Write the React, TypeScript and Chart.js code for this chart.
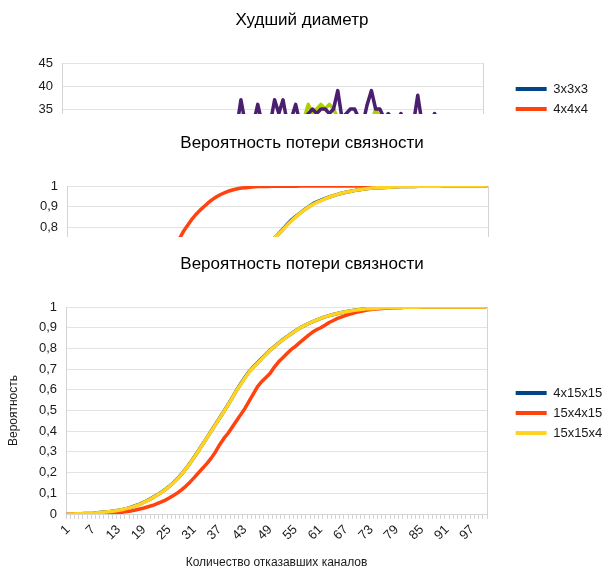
import React, { useEffect, useRef } from 'react';
import { Chart, registerables } from 'chart.js';

Chart.register(...registerables);

const FONT = '"Liberation Sans", Arial, sans-serif';
const TEXT = '#1a1a1a';
const GRID = '#e3e3e3';
const FRAME = '#d4d4d4';

// categories: number of failed channels 1..100
const categories: string[] = Array.from({ length: 100 }, (_, i) => String(i + 1));

const diameterTickLabels = ['0', '5', '10', '15', '20', '25', '30', '35', '40', '45'];
const probTickLabels = ['0', '0,1', '0,2', '0,3', '0,4', '0,5', '0,6', '0,7', '0,8', '0,9', '1'];

const xAxisTitle = 'Количество отказавших каналов';

// ---------- Chart 1: Худший диаметр (only the top band 34..45 is visible) ----------
const d_3x3x3: number[] = [];
const d_4x4x4: number[] = [];
const d_5x5x5: number[] = [];
const d_6x6x6: number[] = [];
const d_7x7x7: number[] = [];
const d_8x8x8: number[] = [];
const d_9x9x9: number[] = [];
const d_10x10x10: number[] = [
  15, 15, 16, 16, 17, 17, 18, 18, 19, 19,
  20, 20, 21, 21, 22, 22, 23, 23, 24, 24,
  25, 25, 26, 26, 27, 26, 27, 28, 27, 28,
  28, 29, 29, 30, 29, 30, 30, 31, 30, 31,
  31, 32, 31, 32, 31, 32, 32, 33, 32, 33,
  32, 33, 32, 33, 32, 33, 32, 33, 36, 34,
  35, 36, 35, 36, 35, 33, 32, 33, 32, 33,
  32, 33, 33, 32, 35, 33, 32, 33, 32, 31,
  32, 31, 32, 31, 30, 31, 30, 29, 30, 29,
  28, 29, 28, 27, 28, 27, 26, 27, 26, 25,
];
const d_11x11x11: number[] = [
  15, 16, 16, 17, 17, 18, 18, 19, 19, 20,
  20, 21, 21, 22, 22, 23, 23, 24, 24, 25,
  25, 26, 26, 27, 26, 27, 28, 27, 28, 29,
  28, 29, 30, 29, 30, 31, 30, 31, 32, 31,
  32, 31, 37, 32, 33, 32, 36, 32, 33, 32,
  37, 34, 37, 32, 33, 36, 32, 33, 34, 35,
  34, 35, 35, 34, 35, 39, 33, 34, 35, 35,
  33, 32, 36, 39, 35, 35, 33, 34, 33, 32,
  34, 32, 33, 32, 38, 32, 33, 32, 34, 32,
  31, 32, 31, 30, 31, 30, 29, 30, 29, 28,
];

// ---------- Chart 2: Вероятность потери связности (top band visible) ----------
const p2_4x4x15: number[] = [
  0, 0, 0, 0.001, 0.002, 0.003, 0.005, 0.007, 0.010, 0.013,
  0.017, 0.022, 0.027, 0.033, 0.040, 0.047, 0.055, 0.064, 0.074, 0.085,
  0.097, 0.110, 0.124, 0.139, 0.155, 0.172, 0.190, 0.209, 0.229, 0.250,
  0.272, 0.295, 0.319, 0.344, 0.370, 0.396, 0.423, 0.450, 0.477, 0.504,
  0.531, 0.558, 0.584, 0.610, 0.635, 0.660, 0.684, 0.707, 0.731, 0.753,
  0.774, 0.796, 0.819, 0.839, 0.856, 0.871, 0.887, 0.901, 0.915, 0.925,
  0.933, 0.941, 0.948, 0.955, 0.961, 0.966, 0.971, 0.975, 0.979, 0.982,
  0.985, 0.988, 0.990, 0.991, 0.992, 0.993, 0.994, 0.995, 0.996, 0.997,
  0.997, 0.998, 0.998, 0.999, 0.999, 0.999, 0.999, 0.999, 0.999, 1,
  1, 1, 1, 1, 1, 1, 1, 1, 1, 1,
];
const p2_4x15x4: number[] = [
  0, 0, 0.001, 0.002, 0.005, 0.010, 0.017, 0.027, 0.040, 0.057,
  0.078, 0.103, 0.131, 0.163, 0.198, 0.236, 0.277, 0.320, 0.365, 0.410,
  0.458, 0.507, 0.556, 0.604, 0.650, 0.695, 0.738, 0.775, 0.806, 0.835,
  0.860, 0.881, 0.900, 0.918, 0.934, 0.948, 0.959, 0.968, 0.976, 0.982,
  0.987, 0.990, 0.992, 0.994, 0.996, 0.997, 0.998, 0.998, 0.999, 0.999,
  0.999, 0.999, 0.999, 0.999, 0.999, 1, 1, 1, 1, 1,
  1, 1, 1, 1, 1, 1, 1, 1, 1, 1,
  1, 1, 1, 1, 1, 1, 1, 1, 1, 1,
  1, 1, 1, 1, 1, 1, 1, 1, 1, 1,
  1, 1, 1, 1, 1, 1, 1, 1, 1, 1,
];
const p2_15x4x4: number[] = [
  0, 0, 0, 0.001, 0.002, 0.003, 0.005, 0.007, 0.010, 0.013,
  0.017, 0.022, 0.027, 0.033, 0.040, 0.047, 0.055, 0.064, 0.074, 0.085,
  0.097, 0.110, 0.124, 0.139, 0.155, 0.172, 0.190, 0.209, 0.229, 0.250,
  0.272, 0.295, 0.319, 0.344, 0.370, 0.396, 0.423, 0.450, 0.477, 0.504,
  0.531, 0.558, 0.584, 0.610, 0.635, 0.660, 0.684, 0.707, 0.730, 0.752,
  0.773, 0.794, 0.815, 0.835, 0.853, 0.870, 0.886, 0.900, 0.912, 0.922,
  0.931, 0.940, 0.948, 0.955, 0.961, 0.966, 0.971, 0.975, 0.979, 0.982,
  0.985, 0.988, 0.990, 0.991, 0.992, 0.993, 0.994, 0.995, 0.996, 0.997,
  0.997, 0.998, 0.998, 0.999, 0.999, 0.999, 0.999, 0.999, 0.999, 1,
  1, 1, 1, 1, 1, 1, 1, 1, 1, 1,
];

// ---------- Chart 3: Вероятность потери связности (full) ----------
const p3_4x15x15: number[] = [
  0, 0, 0.001, 0.001, 0.002, 0.003, 0.004, 0.006, 0.008, 0.010,
  0.012, 0.015, 0.018, 0.022, 0.027, 0.033, 0.040, 0.048, 0.057, 0.067,
  0.078, 0.090, 0.103, 0.117, 0.133, 0.151, 0.171, 0.194, 0.219, 0.247,
  0.277, 0.307, 0.338, 0.369, 0.401, 0.433, 0.464, 0.495, 0.528, 0.562,
  0.597, 0.629, 0.659, 0.688, 0.710, 0.731, 0.752, 0.772, 0.792, 0.809,
  0.826, 0.842, 0.857, 0.871, 0.885, 0.898, 0.909, 0.919, 0.928, 0.937,
  0.945, 0.952, 0.958, 0.964, 0.969, 0.973, 0.977, 0.981, 0.984, 0.987,
  0.989, 0.991, 0.992, 0.993, 0.995, 0.996, 0.997, 0.997, 0.998, 0.998,
  0.999, 0.999, 0.999, 0.999, 1, 1, 1, 1, 1, 1,
  1, 1, 1, 1, 1, 1, 1, 1, 1, 1,
];
const p3_15x4x15: number[] = [
  0, 0, 0, 0, 0, 0.001, 0.001, 0.001, 0.002, 0.002,
  0.003, 0.005, 0.007, 0.009, 0.012, 0.015, 0.019, 0.024, 0.029, 0.035,
  0.041, 0.049, 0.057, 0.066, 0.077, 0.089, 0.102, 0.118, 0.135, 0.155,
  0.177, 0.200, 0.222, 0.245, 0.270, 0.300, 0.335, 0.365, 0.390, 0.420,
  0.450, 0.480, 0.510, 0.545, 0.580, 0.615, 0.640, 0.660, 0.680, 0.710,
  0.735, 0.755, 0.775, 0.795, 0.810, 0.828, 0.845, 0.862, 0.878, 0.890,
  0.900, 0.912, 0.925, 0.935, 0.945, 0.952, 0.960, 0.966, 0.972, 0.977,
  0.981, 0.985, 0.988, 0.990, 0.992, 0.994, 0.995, 0.996, 0.997, 0.998,
  0.999, 0.999, 0.999, 0.999, 0.999, 1, 1, 1, 1, 1,
  1, 1, 1, 1, 1, 1, 1, 1, 1, 1,
];
const p3_15x15x4: number[] = [
  0, 0, 0.001, 0.001, 0.002, 0.003, 0.004, 0.006, 0.008, 0.010,
  0.012, 0.015, 0.018, 0.022, 0.027, 0.032, 0.039, 0.047, 0.056, 0.066,
  0.077, 0.089, 0.102, 0.116, 0.132, 0.150, 0.170, 0.193, 0.218, 0.246,
  0.276, 0.306, 0.337, 0.368, 0.400, 0.432, 0.463, 0.494, 0.527, 0.561,
  0.596, 0.627, 0.657, 0.686, 0.708, 0.729, 0.750, 0.771, 0.791, 0.808,
  0.825, 0.841, 0.856, 0.870, 0.884, 0.898, 0.909, 0.919, 0.928, 0.937,
  0.945, 0.952, 0.958, 0.964, 0.969, 0.973, 0.977, 0.981, 0.984, 0.987,
  0.989, 0.991, 0.992, 0.993, 0.995, 0.996, 0.997, 0.997, 0.998, 0.998,
  0.999, 0.999, 0.999, 0.999, 1, 1, 1, 1, 1, 1,
  1, 1, 1, 1, 1, 1, 1, 1, 1, 1,
];

type Series = { label: string; color: string; data: number[] };

function buildConfig(p: {
  title: string;
  yTitle: string;
  series: Series[];
  yMax: number;
  yStep: number;
  yTickLabels: string[];
  plotLeft: number;
  plotRight: number;
}): any {
  const n = p.series.length;
  return {
    type: 'line',
    data: {
      labels: categories,
      datasets: p.series.map((s, i) => ({
        label: s.label,
        data: s.data,
        borderColor: s.color,
        backgroundColor: s.color,
        borderWidth: 3.5,
        pointRadius: 0,
        pointHoverRadius: 0,
        tension: 0,
        fill: false,
        borderJoinStyle: 'round',
        borderCapStyle: 'round',
        order: n - i,
      })),
    },
    options: {
      responsive: false,
      animation: false,
      events: [],
      layout: { padding: 0 },
      plugins: {
        title: {
          display: true,
          text: p.title,
          color: '#000',
          font: { family: FONT, size: 17, weight: 'normal', lineHeight: 1.2 },
          padding: { top: 13.8, bottom: 32.8 },
        },
        legend: {
          position: 'right',
          align: 'center',
          title: { display: true, text: '', font: { family: FONT, size: 10, lineHeight: 1.2 }, padding: 0 },
          labels: {
            boxWidth: 31,
            boxHeight: 4,
            padding: 7,
            color: TEXT,
            font: { family: FONT, size: 13 },
            sort: (a: any, b: any) => a.datasetIndex - b.datasetIndex,
            generateLabels: (chart: any) =>
              (Chart.defaults.plugins.legend.labels as any)
                .generateLabels(chart)
                .map((l: any) => ({ ...l, fillStyle: l.strokeStyle, lineWidth: 0 })),
          },
        },
        tooltip: { enabled: false },
      },
      scales: {
        x: {
          type: 'category',
          offset: true,
          grid: { display: true, drawOnChartArea: false, drawTicks: true, tickLength: 5, color: FRAME, offset: true },
          border: { display: true, color: FRAME },
          ticks: {
            autoSkip: false,
            minRotation: 45,
            maxRotation: 45,
            padding: 3,
            color: TEXT,
            font: { family: FONT, size: 13 },
            callback: (_v: any, i: number) => (i % 6 === 0 ? categories[i] : ''),
          },
          title: {
            display: true,
            text: xAxisTitle,
            color: TEXT,
            font: { family: FONT, size: 12 },
            padding: { top: 0, bottom: 3.8 },
          },
          afterFit: (s: any) => {
            s.height = 60;
          },
        },
        y: {
          min: 0,
          max: p.yMax,
          grid: { color: GRID, drawTicks: false },
          border: { display: true, color: FRAME },
          ticks: {
            stepSize: p.yStep,
            padding: 9,
            color: TEXT,
            font: { family: FONT, size: 13 },
            callback: (_v: any, i: number) => p.yTickLabels[i],
          },
          title: {
            display: true,
            text: p.yTitle,
            color: TEXT,
            font: { family: FONT, size: 12 },
            padding: { top: 14.8, bottom: 0 },
          },
          afterFit: (s: any) => {
            s.width = p.plotLeft;
          },
        },
        yR: {
          type: 'linear',
          position: 'right',
          display: true,
          grid: { drawOnChartArea: false, drawTicks: false },
          border: { display: true, color: FRAME },
          ticks: { display: false },
          afterFit: (s: any) => {
            const lw = s.chart.legend ? s.chart.legend.width : 0;
            s.width = Math.max(0, s.chart.width - lw - p.plotRight);
          },
        },
      },
    },
  };
}

const cfg1 = () =>
  buildConfig({
    title: 'Худший диаметр',
    yTitle: 'Диаметр',
    yMax: 45,
    yStep: 5,
    yTickLabels: diameterTickLabels,
    plotLeft: 70,
    plotRight: 491,
    series: [
      { label: '3x3x3', color: '#004586', data: d_3x3x3 },
      { label: '4x4x4', color: '#ff420e', data: d_4x4x4 },
      { label: '5x5x5', color: '#ffd320', data: d_5x5x5 },
      { label: '6x6x6', color: '#579d1c', data: d_6x6x6 },
      { label: '7x7x7', color: '#7e0021', data: d_7x7x7 },
      { label: '8x8x8', color: '#83caff', data: d_8x8x8 },
      { label: '9x9x9', color: '#314004', data: d_9x9x9 },
      { label: '10x10x10', color: '#aecf00', data: d_10x10x10 },
      { label: '11x11x11', color: '#4b1f6f', data: d_11x11x11 },
    ],
  });

const cfg2 = () =>
  buildConfig({
    title: 'Вероятность потери связности',
    yTitle: 'Вероятность',
    yMax: 1,
    yStep: 0.1,
    yTickLabels: probTickLabels,
    plotLeft: 75,
    plotRight: 496,
    series: [
      { label: '4x4x15', color: '#004586', data: p2_4x4x15 },
      { label: '4x15x4', color: '#ff420e', data: p2_4x15x4 },
      { label: '15x4x4', color: '#ffd320', data: p2_15x4x4 },
    ],
  });

const cfg3 = () =>
  buildConfig({
    title: 'Вероятность потери связности',
    yTitle: 'Вероятность',
    yMax: 1,
    yStep: 0.1,
    yTickLabels: probTickLabels,
    plotLeft: 74,
    plotRight: 495,
    series: [
      { label: '4x15x15', color: '#004586', data: p3_4x15x15 },
      { label: '15x4x15', color: '#ff420e', data: p3_15x4x15 },
      { label: '15x15x4', color: '#ffd320', data: p3_15x15x4 },
    ],
  });

const CW = 620;
const CH = 334;

export default function App() {
  const r1 = useRef<HTMLCanvasElement>(null);
  const r2 = useRef<HTMLCanvasElement>(null);
  const r3 = useRef<HTMLCanvasElement>(null);

  useEffect(() => {
    Chart.defaults.font.family = FONT;
    const charts: Chart[] = [];
    if (r1.current) charts.push(new Chart(r1.current, cfg1()));
    if (r2.current) charts.push(new Chart(r2.current, cfg2()));
    if (r3.current) charts.push(new Chart(r3.current, cfg3()));
    return () => charts.forEach((c) => c.destroy());
  }, []);

  const clip = (top: number, height: number): React.CSSProperties => ({
    position: 'absolute',
    left: 0,
    top,
    width: 604,
    height,
    overflow: 'hidden',
  });
  const inner = (top: number): React.CSSProperties => ({
    position: 'absolute',
    left: -8,
    top,
    width: CW,
    height: CH,
  });

  return (
    <div style={{ position: 'absolute', left: 0, top: 0, width: 604, height: 574, overflow: 'hidden', background: '#fff' }}>
      <div style={clip(0, 114)}>
        <div style={inner(-4)}>
          <canvas ref={r1} width={CW} height={CH} style={{ display: 'block' }} />
        </div>
      </div>
      <div style={clip(114, 123)}>
        <div style={inner(5)}>
          <canvas ref={r2} width={CW} height={CH} style={{ display: 'block' }} />
        </div>
      </div>
      <div style={clip(240, 334)}>
        <div style={inner(0)}>
          <canvas ref={r3} width={CW} height={CH} style={{ display: 'block' }} />
        </div>
      </div>
    </div>
  );
}
